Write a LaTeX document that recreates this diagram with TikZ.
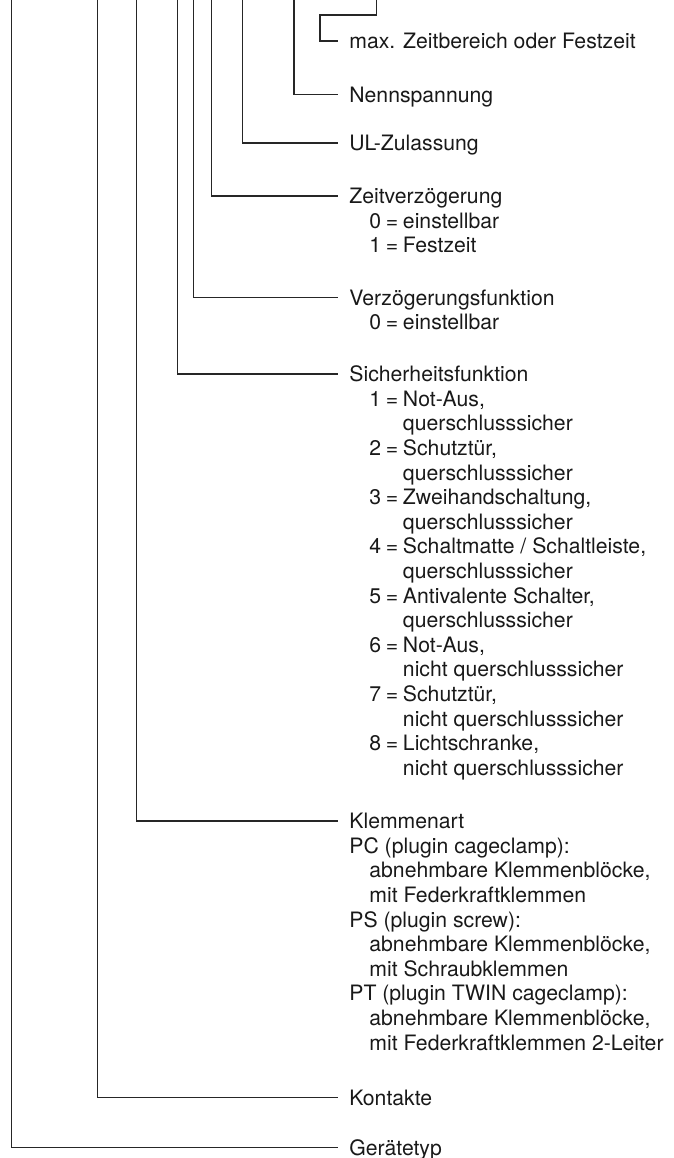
\documentclass[tikz,border=0pt]{standalone}
\usepackage{fontspec}
\setmainfont{TeX Gyre Heros}

\newlength{\einzug}
\setlength{\einzug}{10pt}
\newcommand{\wahl}[2]{\hspace*{\einzug}#1\:=\:#2}
\newcommand{\weiter}[1]{\hspace*{\einzug}\phantom{0\:=\:}#1}
\newcommand{\rein}[1]{\hspace*{\einzug}#1}

\tikzset{
  leitung/.style={draw=black!85, line width=0.55pt, shorten >=5.5pt},
  titel/.style={font=\fontsize{10.6}{12.3}\selectfont, text=black!90,
    inner sep=0pt, anchor=west, text height=7.6pt, text depth=0pt},
  liste/.style={font=\fontsize{10.6}{12.3}\selectfont, text=black!90,
    inner sep=0pt, anchor=base west}
}

\begin{document}
\begin{tikzpicture}[x=0.5pt, y=-0.5pt]

  \useasboundingbox (0,0) rectangle (674,1158);

  \def\tx{349}
  \def\zeile{12.3pt}

  \node[titel] (maxzeit) at (\tx,41)    {max. Zeitbereich oder Festzeit};
  \node[titel] (nenn)    at (\tx,94.5)  {Nennspannung};
  \node[titel] (ul)      at (\tx,143)   {UL-Zulassung};
  \node[titel] (zeitv)   at (\tx,196)   {Zeitverzögerung};
  \node[titel] (verz)    at (\tx,297.5) {Verzögerungsfunktion};
  \node[titel] (sicher)  at (\tx,374)   {Sicherheitsfunktion};
  \node[titel] (klemme)  at (\tx,821)   {Klemmenart};
  \node[titel] (kontakt) at (\tx,1097.5){Kontakte};
  \node[titel] (geraet)  at (\tx,1147.5){Gerätetyp};

  % Erlaeuterungen unter den Ueberschriften
  \node[liste] (zeitv-txt) at ([yshift=-\zeile]zeitv.base west) {%
    \begin{tabular}[t]{@{}l@{}}
      \wahl{0}{einstellbar}\\
      \wahl{1}{Festzeit}
    \end{tabular}};

  \node[liste] (verz-txt) at ([yshift=-\zeile]verz.base west) {%
    \begin{tabular}[t]{@{}l@{}}
      \wahl{0}{einstellbar}
    \end{tabular}};

  \node[liste] (sicher-txt) at ([yshift=-\zeile]sicher.base west) {%
    \begin{tabular}[t]{@{}l@{}}
      \wahl{1}{Not-Aus,}\\
      \weiter{querschlusssicher}\\
      \wahl{2}{Schutztür,}\\
      \weiter{querschlusssicher}\\
      \wahl{3}{Zweihandschaltung,}\\
      \weiter{querschlusssicher}\\
      \wahl{4}{Schaltmatte / Schaltleiste,}\\
      \weiter{querschlusssicher}\\
      \wahl{5}{Antivalente Schalter,}\\
      \weiter{querschlusssicher}\\
      \wahl{6}{Not-Aus,}\\
      \weiter{nicht querschlusssicher}\\
      \wahl{7}{Schutztür,}\\
      \weiter{nicht querschlusssicher}\\
      \wahl{8}{Lichtschranke,}\\
      \weiter{nicht querschlusssicher}
    \end{tabular}};

  \node[liste] (klemme-txt) at ([yshift=-\zeile]klemme.base west) {%
    \begin{tabular}[t]{@{}l@{}}
      PC (plugin cageclamp):\\
      \rein{abnehmbare Klemmenblöcke,}\\
      \rein{mit Federkraftklemmen}\\
      PS (plugin screw):\\
      \rein{abnehmbare Klemmenblöcke,}\\
      \rein{mit Schraubklemmen}\\
      PT (plugin TWIN cageclamp):\\
      \rein{abnehmbare Klemmenblöcke,}\\
      \rein{mit Federkraftklemmen 2-Leiter}
    \end{tabular}};

  % Leitungen von oben zu den Ueberschriften
  \foreach \x/\ziel in {11.7/geraet, 97.7/kontakt, 136.7/klemme, 177.3/sicher,
                        193.7/verz, 211.7/zeitv, 242.3/ul, 294/nenn} {
    \coordinate (oben-\ziel) at (\x,0);
    \draw[leitung] (oben-\ziel) |- (\ziel);
  }

  \coordinate (oben-max) at (376.7,0);
  \coordinate (knick) at (320,15);
  \draw[leitung] (oben-max) |- (knick) |- (maxzeit);

\end{tikzpicture}
\end{document}
